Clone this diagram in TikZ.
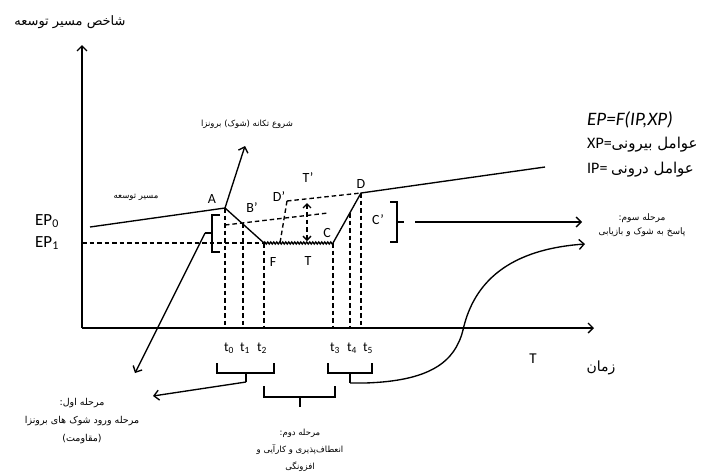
\documentclass[tikz,border=0pt]{standalone}
\usepackage{fontspec}
\setmainfont{Carlito}
\newfontfamily\arabicfont[Script=Arabic]{DejaVu Sans}
\TeXXeTstate=1
\usetikzlibrary{arrows.meta,decorations.pathmorphing}
\begin{document}
\begin{tikzpicture}[x=1pt,y=-1pt,
  solid line/.style={line width=1.35pt},
  dsh/.style={line width=1.35pt, dash pattern=on 4.5pt off 3pt},
  arr/.style={line width=1.35pt,-{Straight Barb[length=5pt,width=10pt]}},
  lbl/.style={font=\fontsize{14}{14}\selectfont, inner sep=0pt},
  tl/.style={font=\fontsize{13.5}{13.5}\selectfont, inner sep=0pt},
  ep/.style={font=\fontsize{17}{17}\selectfont, inner sep=0pt},
  ar/.style={font=\arabicfont\fontsize{8.5}{10}\selectfont, align=center, inner sep=0pt},
  arbig/.style={font=\arabicfont\fontsize{13}{15}\selectfont, inner sep=0pt},
  brk/.style={line width=1.2pt}]
\path[use as bounding box] (0,0) rectangle (706,475);

% axes
\coordinate (O) at (82,328);
\coordinate (Ytop) at (82,45);
\coordinate (Xend) at (594,328);
\draw[arr] (O) -- (Ytop);
\draw[arr] (O) -- (Xend);
\node[arbig] (ytitle) at (70,22) {\beginR شاخص مسیر توسعه\endR};

% main path
\coordinate (S) at (90,227);
\coordinate (A) at (225,208);
\coordinate (F) at (264,243);
\coordinate (Cb) at (333,243);
\coordinate (D) at (361,193);
\coordinate (E) at (545,167);
\draw[solid line] (S) -- (A) -- (F);
\draw[solid line, decorate, decoration={zigzag, amplitude=1pt, segment length=3pt}] (F) -- (Cb);
\draw[solid line] (Cb) -- (D) -- (E);

% EP1 dashed
\coordinate (EP1y) at (82,243);
\draw[dsh] (EP1y) -- (F);

% vertical dashed lines
\coordinate (t0b) at (225,328);
\coordinate (B1) at (243,223);
\coordinate (t1b) at (243,328);
\coordinate (t2b) at (264,328);
\coordinate (t3b) at (333,328);
\coordinate (C4) at (350,213);
\coordinate (t4b) at (350,328);
\coordinate (t5b) at (361,328);
\draw[dsh] (A) -- (t0b);
\draw[dsh] (B1) -- (t1b);
\draw[dsh] (F) -- (t2b);
\draw[dsh] (Cb) -- (t3b);
\draw[dsh] (C4) -- (t4b);
\draw[dsh] (D) -- (t5b);

% B' and D' dashed lines
\coordinate (Bs) at (225,225);
\coordinate (Be) at (328,213);
\coordinate (Dp) at (287,201);
\coordinate (Dpb) at (280,243);
\draw[dsh] (Bs) -- (Be);
\draw[dsh] (Dp) -- (D);
\draw[dsh] (Dp) -- (Dpb);

% T' double arrow
\coordinate (Tt) at (307,203);
\coordinate (Tb) at (307,241);
\draw[dsh, {Straight Barb[length=4pt,width=8pt]}-{Straight Barb[length=4pt,width=8pt]}] (Tt) -- (Tb);

% shock arrow from A
\coordinate (Sh) at (245,146);
\draw[arr] (A) -- (Sh);
\node[ar] (shlbl) at (247,124) {\beginR شروع تکانه (شوک) برونزا\endR};
\node[ar] (path lbl) at (136,197) {\beginR مسیر توسعه\endR};

% point labels
\node[lbl] (lA) at (212,199) {A};
\node[lbl] (lB) at (252,208) {B'};
\node[lbl] (lD2) at (279,197) {D'};
\node[lbl] (lT2) at (308,178) {T'};
\node[lbl] (lD) at (361,184) {D};
\node[lbl] (lC) at (327,233) {C};
\node[lbl] (lF) at (273,262) {F};
\node[lbl] (lT) at (308,261) {T};
\node[lbl] (lC2) at (378,220) {C'};

% EP labels
\node[ep] (ep0) at (47,221) {EP\textsubscript{0}};
\node[ep] (ep1) at (47,243) {EP\textsubscript{1}};

% left bracket near A
\coordinate (lb1) at (220,215);
\coordinate (lb2) at (212,215);
\coordinate (lb3) at (212,252);
\coordinate (lb4) at (220,252);
\coordinate (lbm) at (212,233);
\coordinate (lbt) at (205,233);
\draw[brk] (lb1) -- (lb2) -- (lb3) -- (lb4);
\draw[brk] (lbm) -- (lbt);
\coordinate (lbe) at (135,373);
\draw[arr] (lbt) -- (lbe);

% right bracket C'
\coordinate (rb1) at (390,202);
\coordinate (rb2) at (397,202);
\coordinate (rb3) at (397,242);
\coordinate (rb4) at (390,242);
\coordinate (rbm) at (397,222);
\coordinate (rbt) at (404,222);
\draw[brk] (rb1) -- (rb2) -- (rb3) -- (rb4);
\draw[brk] (rbm) -- (rbt);
\coordinate (rbs) at (415,222);
\coordinate (rbe) at (582,222);
\draw[arr] (rbs) -- (rbe);

% t labels
\node[tl] (t0) at (229,348) {t\textsubscript{0}};
\node[tl] (t1) at (245,348) {t\textsubscript{1}};
\node[tl] (t2) at (262,348) {t\textsubscript{2}};
\node[tl] (t3) at (335,348) {t\textsubscript{3}};
\node[tl] (t4) at (352,348) {t\textsubscript{4}};
\node[tl] (t5) at (368,348) {t\textsubscript{5}};

% bottom brackets
\draw[brk] (217,363) -- (217,373) -- (274,373) -- (274,363);
\coordinate (b1m) at (246,373);
\coordinate (b1t) at (246,382);
\draw[brk] (b1m) -- (b1t);
\coordinate (b1e) at (153,396);
\draw[arr] (b1t) -- (b1e);

\draw[brk] (328,363) -- (328,373) -- (372,373) -- (372,363);
\coordinate (b2m) at (350,373);
\coordinate (b2t) at (350,383);
\draw[brk] (b2m) -- (b2t);
\coordinate (cv) at (585,244);
\draw[arr] (b2t) -- (365,383) .. controls (430,381) and (455,362) .. (463,330)
   .. controls (472,290) and (500,250) .. (cv);

\draw[brk] (264,386) -- (264,397) -- (335,397) -- (335,386);
\coordinate (b3m) at (300,397);
\coordinate (b3t) at (300,407);
\draw[brk] (b3m) -- (b3t);

% axis labels
\node[font=\fontsize{15}{15}\selectfont, inner sep=0pt] (Tlbl) at (533,359) {T};
\node[font=\arabicfont\fontsize{14}{15}\selectfont, inner sep=0pt] (zaman) at (601,368) {\beginR زمان\endR};

% formulas right
\node[font=\itshape\fontsize{19}{19}\selectfont, inner sep=0pt, anchor=west] (epf) at (587,120) {EP=F(IP,XP)};
\node[inner sep=0pt, anchor=west] (xp) at (587,145) {\fontsize{16}{16}\selectfont XP=\arabicfont\fontsize{15}{15}\selectfont\beginR عوامل بیرونی\endR};
\node[inner sep=0pt, anchor=west] (ip) at (587,170) {\fontsize{16}{16}\selectfont IP= \arabicfont\fontsize{15}{15}\selectfont\beginR عوامل درونی\endR};

% stage texts
\node[ar, font=\arabicfont\fontsize{9}{14}\selectfont] (st3) at (642,225) {\beginR مرحله سوم:\endR\\ \beginR پاسخ به شوک و بازیابی\endR};
\node[ar, font=\arabicfont\fontsize{9.5}{18}\selectfont] (st1) at (82,421) {\beginR مرحله اول:\endR\\ \beginR مرحله ورود شوک های برونزا\endR\\ \beginR(مقاومت)\endR};
\node[ar, font=\arabicfont\fontsize{8.5}{17}\selectfont] (st2) at (300,450) {\beginR مرحله دوم:\endR\\ \beginR انعطاف‌پذیری و کارآیی و\endR\\ \beginR افزونگی\endR};
\end{tikzpicture}
\end{document}
